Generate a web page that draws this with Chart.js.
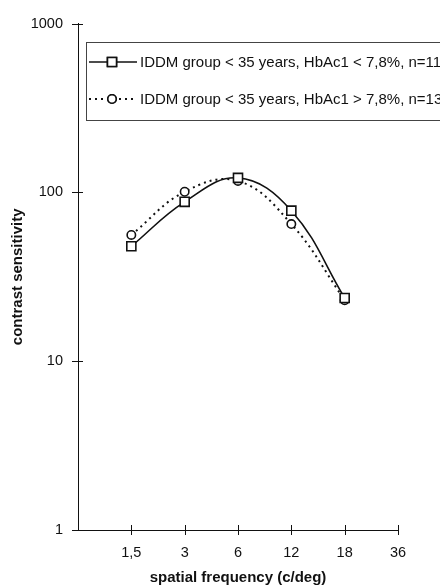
<!DOCTYPE html>
<html>
<head>
<meta charset="utf-8">
<script src="https://cdn.jsdelivr.net/npm/chart.js@4/dist/chart.umd.min.js"></script>
<style>
  html, body { margin: 0; padding: 0; background: #fff; }
  #wrap { width: 440px; height: 587px; position: relative; overflow: hidden; }
</style>
</head>
<body>
<div id="wrap"><canvas id="c" width="440" height="587"></canvas></div>
<script>
// spatial frequency categories (first slot is the y-axis origin)
const freqLabels = ['', '1,5', '3', '6', '12', '18', '36'];
const yTicks = [1, 10, 100, 1000];
const lowHbA1c = [null, 48, 88, 122, 78, 23.7, null];
const highHbA1c = [null, 56, 101, 117, 65, 23, null];
const legendLabels = [
  'IDDM group < 35 years, HbAc1 < 7,8%, n=11',
  'IDDM group < 35 years, HbAc1 > 7,8%, n=13',
];

const FONT = "'Liberation Sans', Arial, sans-serif";
const INK = '#111';

// tick marks crossing both axes + boxed legend
const crossTicks = {
  id: 'crossTicks',
  afterDraw(chart) {
    const ctx = chart.ctx;
    const xs = chart.scales.x, ys = chart.scales.y;
    ctx.save();
    ctx.strokeStyle = INK;
    ctx.lineWidth = 1;
    ctx.beginPath();
    yTicks.forEach((v) => {
      const py = Math.round(ys.getPixelForValue(v)) + 0.5;
      ctx.moveTo(xs.left - 6, py);
      ctx.lineTo(xs.left + 5, py);
    });
    freqLabels.forEach((_, i) => {
      if (i === 0) return;
      const px = Math.round(xs.getPixelForValue(i)) + 0.5;
      ctx.moveTo(px, ys.bottom - 5);
      ctx.lineTo(px, ys.bottom + 5);
    });
    ctx.stroke();

    // legend box, clipped on the right like the scan
    ctx.strokeStyle = '#444';
    ctx.strokeRect(86.5, 42.5, 420, 78);
    const rows = [62, 99];
    chart.data.datasets.forEach((ds, i) => {
      const y = rows[i];
      ctx.beginPath();
      ctx.strokeStyle = INK;
      ctx.lineWidth = ds.borderWidth;
      ctx.setLineDash(ds.borderDash || []);
      ctx.moveTo(89, y);
      ctx.lineTo(137, y);
      ctx.stroke();
      ctx.setLineDash([]);
      ctx.lineWidth = ds.pointBorderWidth;
      Chart.helpers.drawPoint(ctx, {
        pointStyle: ds.pointStyle,
        radius: ds.pointRadius,
        borderWidth: ds.pointBorderWidth,
      }, 112, y);
      ctx.fillStyle = '#fff';
      ctx.fill();
      ctx.stroke();
      ctx.fillStyle = INK;
      ctx.font = '15px ' + FONT;
      ctx.textBaseline = 'middle';
      ctx.fillText(legendLabels[i], 140, y + 1);
    });
    ctx.restore();
  },
};

new Chart(document.getElementById('c'), {
  type: 'line',
  data: {
    labels: freqLabels,
    datasets: [
      {
        label: legendLabels[0],
        data: lowHbA1c,
        borderColor: INK,
        borderWidth: 1.6,
        tension: 0.4,
        pointStyle: 'rect',
        pointRadius: 6.4,
        pointBorderWidth: 1.6,
        pointBorderColor: INK,
        pointBackgroundColor: '#fff',
      },
      {
        label: legendLabels[1],
        data: highHbA1c,
        borderColor: INK,
        borderWidth: 2,
        borderDash: [2, 4],
        tension: 0.4,
        pointStyle: 'circle',
        pointRadius: 4.2,
        pointBorderWidth: 1.6,
        pointBorderColor: INK,
        pointBackgroundColor: '#fff',
      },
    ],
  },
  options: {
    responsive: false,
    animation: false,
    layout: { padding: { top: 20, right: 42, left: 0, bottom: 0 } },
    plugins: { legend: { display: false }, tooltip: { enabled: false } },
    scales: {
      x: {
        type: 'category',
        offset: false,
        grid: { display: false, drawTicks: false },
        border: { display: true, color: INK, width: 1 },
        ticks: { color: INK, font: { family: FONT, size: 14.5 }, padding: 14, maxRotation: 0, autoSkip: false },
        title: {
          display: true,
          text: 'spatial frequency (c/deg)',
          color: INK,
          font: { family: FONT, size: 15, weight: 'bold' },
          padding: { top: 0, bottom: 0 },
        },
        afterFit: (s) => { s.height = 57; },
      },
      y: {
        type: 'logarithmic',
        min: 1,
        max: 1000,
        grid: { display: false, drawTicks: false },
        border: { display: true, color: INK, width: 1 },
        afterBuildTicks: (s) => { s.ticks = yTicks.map((v) => ({ value: v })); },
        ticks: {
          color: INK,
          font: { family: FONT, size: 14.5 },
          padding: 15,
          callback: (v) => String(v),
        },
        title: {
          display: true,
          text: 'contrast sensitivity',
          color: INK,
          font: { family: FONT, size: 15, weight: 'bold' },
          padding: { top: 9, bottom: 0 },
        },
        afterFit: (s) => { s.width = 78; },
      },
    },
  },
  plugins: [crossTicks],
});
</script>
</body>
</html>
